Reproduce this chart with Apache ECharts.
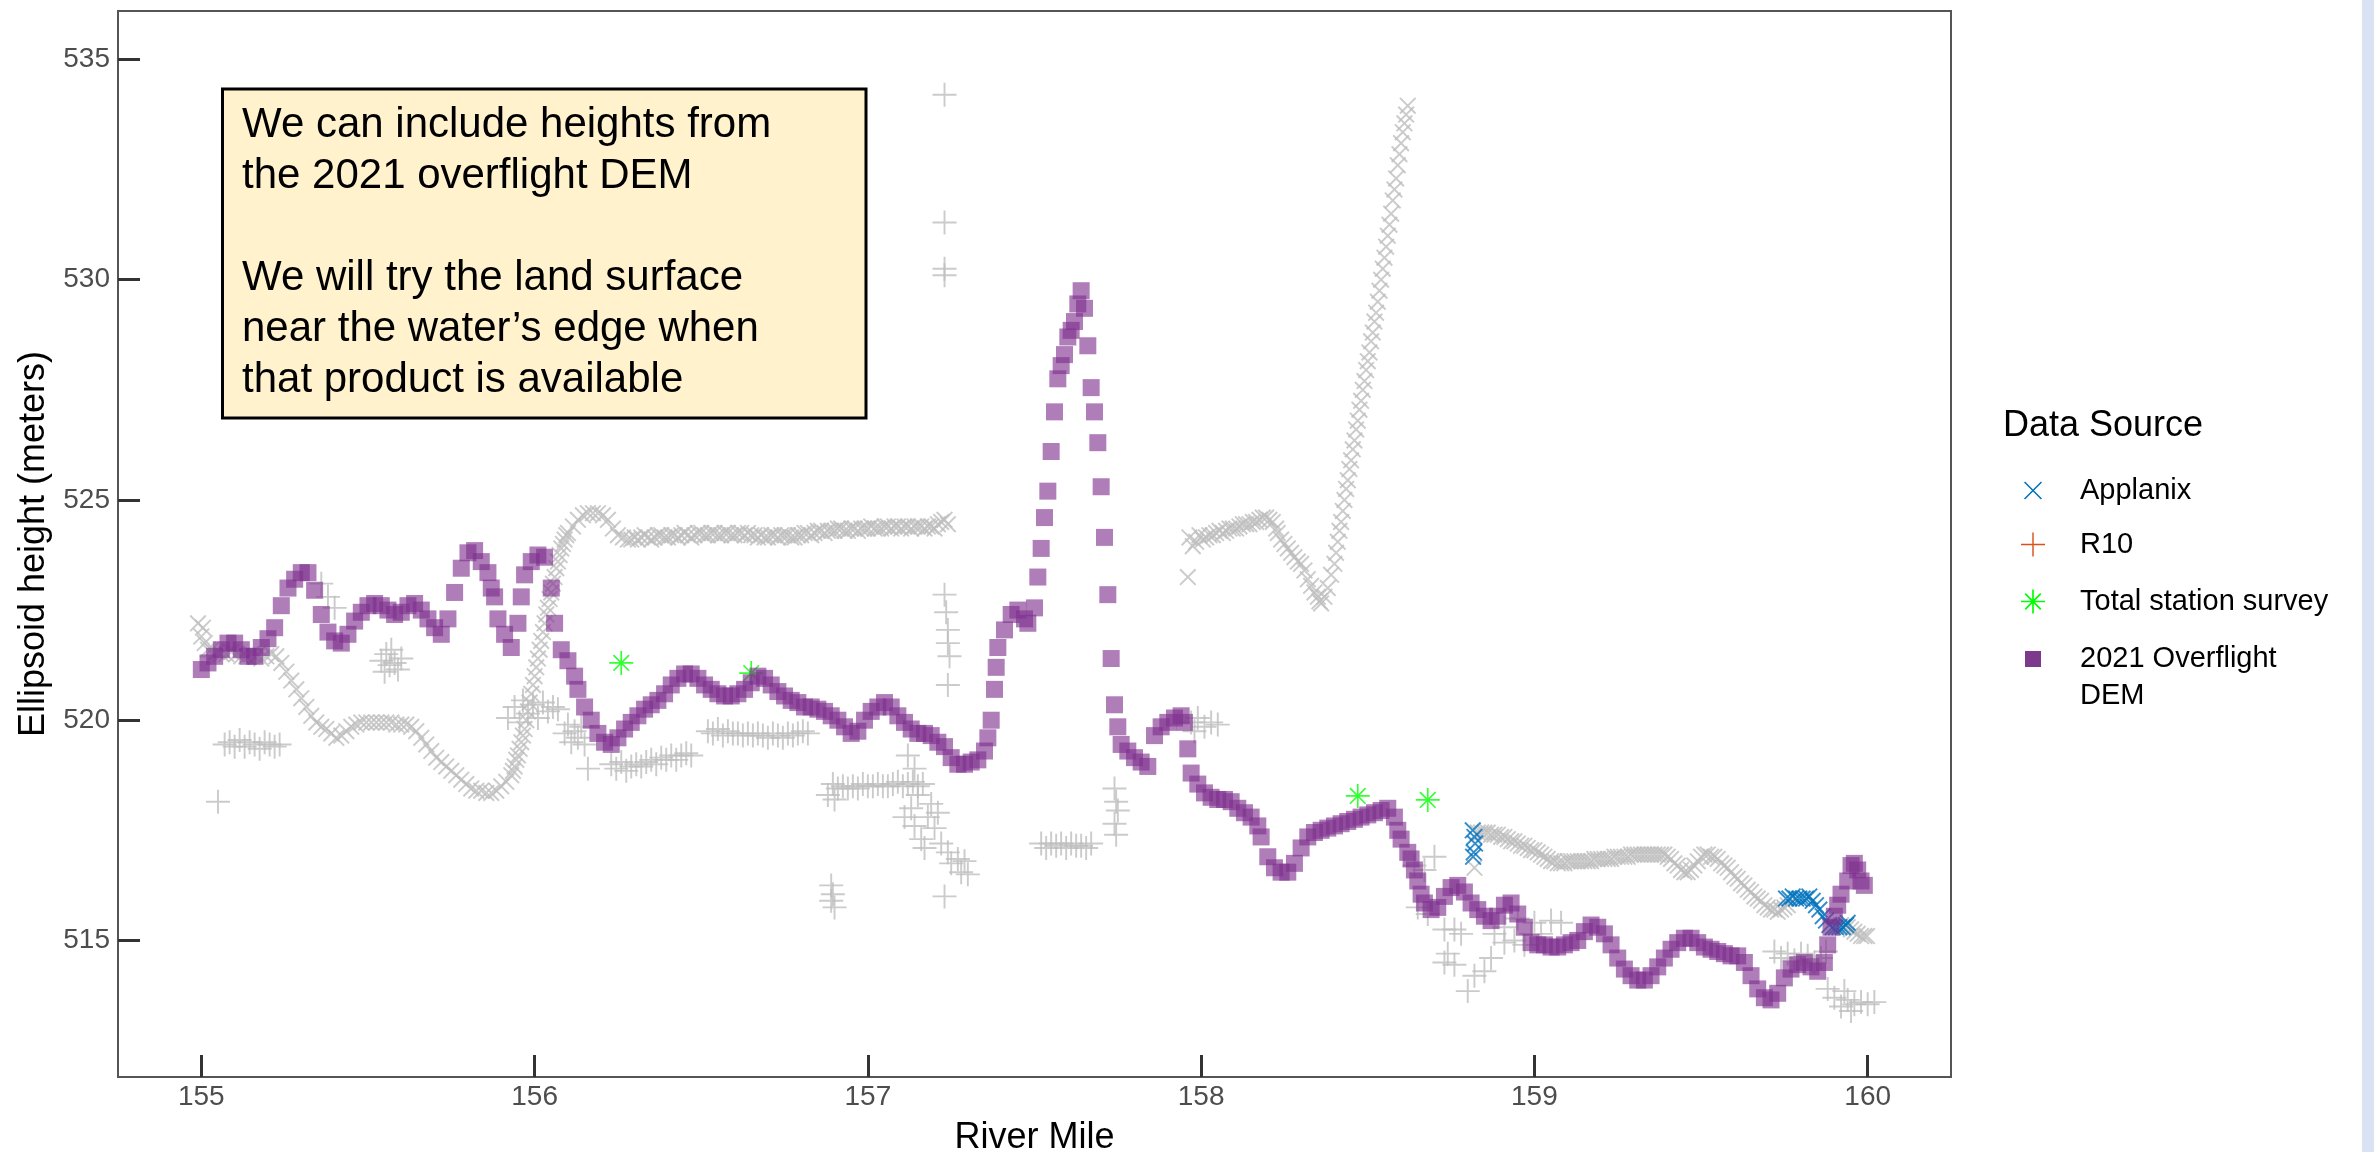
<!DOCTYPE html>
<html><head><meta charset="utf-8">
<script src="https://cdn.jsdelivr.net/npm/echarts/dist/echarts.min.js"></script>
<style>html,body{margin:0;padding:0;background:#fff;}#c{width:2374px;height:1152px;}</style>
</head><body><div id="c"></div>
<script>
// ---------------- data ----------------
const xTicks = [155, 156, 157, 158, 159, 160];
const yTicks = [515, 520, 525, 530, 535];
const seriesNames = ['Applanix', 'R10', 'Total station survey', '2021 Overflight DEM'];

// 2021 Overflight DEM  [river mile, ellipsoid height]
const demData = [[155.00,521.15],[155.02,521.3],[155.04,521.45],[155.06,521.6],[155.08,521.75],[155.10,521.75],[155.12,521.6],[155.14,521.45],[155.16,521.45],[155.18,521.65],[155.20,521.85],[155.22,522.1],[155.24,522.6],[155.26,523.0],[155.28,523.2],[155.30,523.35],[155.32,523.35],[155.34,522.95],[155.36,522.4],[155.38,522.0],[155.40,521.8],[155.42,521.75],[155.44,521.95],[155.46,522.25],[155.48,522.45],[155.50,522.6],[155.52,522.65],[155.54,522.6],[155.56,522.5],[155.58,522.4],[155.60,522.45],[155.62,522.6],[155.64,522.65],[155.66,522.5],[155.68,522.3],[155.70,522.1],[155.72,521.95],[155.74,522.3],[155.76,522.9],[155.78,523.45],[155.80,523.8],[155.82,523.85],[155.84,523.6],[155.86,523.35],[155.87,523.0],[155.88,522.8],[155.89,522.3],[155.91,521.95],[155.93,521.65],[155.95,522.2],[155.96,522.8],[155.97,523.3],[155.99,523.6],[156.01,523.75],[156.03,523.7],[156.05,523.0],[156.06,522.2],[156.08,521.6],[156.10,521.35],[156.12,521.0],[156.13,520.7],[156.15,520.3],[156.17,520.0],[156.19,519.7],[156.21,519.5],[156.23,519.45],[156.25,519.6],[156.27,519.8],[156.29,519.95],[156.31,520.1],[156.33,520.25],[156.35,520.35],[156.37,520.45],[156.39,520.6],[156.41,520.8],[156.43,520.95],[156.45,521.05],[156.47,521.05],[156.49,520.95],[156.51,520.8],[156.53,520.7],[156.55,520.6],[156.57,520.55],[156.59,520.55],[156.61,520.6],[156.63,520.7],[156.65,520.85],[156.67,521.0],[156.69,520.95],[156.71,520.8],[156.73,520.65],[156.75,520.55],[156.77,520.45],[156.79,520.4],[156.81,520.3],[156.83,520.3],[156.85,520.25],[156.87,520.2],[156.89,520.1],[156.91,520.0],[156.93,519.85],[156.95,519.7],[156.97,519.75],[156.99,520.0],[157.01,520.2],[157.03,520.3],[157.05,520.4],[157.07,520.3],[157.09,520.1],[157.11,519.95],[157.13,519.8],[157.15,519.7],[157.17,519.7],[157.19,519.65],[157.21,519.5],[157.23,519.4],[157.25,519.15],[157.27,519.0],[157.29,519.0],[157.31,519.05],[157.33,519.1],[157.35,519.3],[157.36,519.6],[157.37,520.0],[157.38,520.7],[157.385,521.2],[157.39,521.65],[157.41,522.05],[157.43,522.4],[157.45,522.5],[157.47,522.3],[157.48,522.2],[157.50,522.55],[157.51,523.25],[157.52,523.9],[157.53,524.6],[157.54,525.2],[157.55,526.1],[157.56,527.0],[157.57,527.75],[157.58,528.05],[157.59,528.3],[157.60,528.7],[157.61,528.85],[157.62,529.05],[157.63,529.45],[157.64,529.75],[157.65,529.35],[157.66,528.5],[157.67,527.55],[157.68,527.0],[157.69,526.3],[157.70,525.3],[157.71,524.15],[157.72,522.85],[157.73,521.4],[157.74,520.35],[157.75,519.85],[157.76,519.45],[157.78,519.3],[157.80,519.15],[157.82,519.05],[157.84,518.95],[157.86,519.65],[157.88,519.85],[157.90,519.95],[157.92,520.05],[157.94,520.1],[157.95,519.95],[157.96,519.35],[157.97,518.8],[157.99,518.55],[158.01,518.35],[158.03,518.25],[158.05,518.2],[158.07,518.2],[158.09,518.15],[158.11,518.0],[158.13,517.9],[158.15,517.8],[158.17,517.6],[158.18,517.35],[158.20,516.9],[158.22,516.65],[158.24,516.55],[158.26,516.55],[158.28,516.75],[158.30,517.1],[158.32,517.35],[158.34,517.45],[158.36,517.5],[158.38,517.55],[158.40,517.6],[158.42,517.65],[158.44,517.7],[158.46,517.75],[158.48,517.8],[158.50,517.85],[158.52,517.9],[158.54,517.95],[158.56,518.0],[158.58,517.8],[158.59,517.5],[158.60,517.3],[158.62,517.0],[158.63,516.85],[158.64,516.6],[158.65,516.35],[158.66,516.05],[158.67,515.85],[158.69,515.7],[158.71,515.75],[158.73,516.0],[158.75,516.2],[158.77,516.25],[158.79,516.1],[158.81,515.85],[158.83,515.7],[158.85,515.55],[158.87,515.45],[158.89,515.55],[158.91,515.8],[158.93,515.85],[158.95,515.6],[158.97,515.3],[158.99,514.95],[159.01,514.9],[159.03,514.9],[159.05,514.85],[159.07,514.85],[159.09,514.9],[159.11,514.95],[159.13,515.0],[159.15,515.2],[159.17,515.35],[159.19,515.3],[159.21,515.15],[159.23,514.9],[159.25,514.6],[159.27,514.35],[159.29,514.2],[159.31,514.1],[159.33,514.1],[159.35,514.2],[159.37,514.4],[159.39,514.6],[159.41,514.8],[159.43,514.95],[159.45,515.05],[159.47,515.05],[159.49,514.95],[159.51,514.85],[159.53,514.8],[159.55,514.75],[159.57,514.7],[159.59,514.65],[159.61,514.65],[159.63,514.5],[159.65,514.2],[159.67,513.9],[159.69,513.7],[159.71,513.65],[159.73,513.8],[159.75,514.15],[159.77,514.35],[159.79,514.45],[159.81,514.5],[159.83,514.4],[159.85,514.3],[159.87,514.5],[159.88,514.9],[159.89,515.3],[159.90,515.55],[159.91,515.8],[159.92,516.05],[159.94,516.35],[159.95,516.7],[159.96,516.75],[159.97,516.6],[159.98,516.35],[159.99,516.25]];

// Applanix (highlighted, blue)
const applanixData = [[158.815,517.5],[158.82,517.35],[158.822,517.2],[158.818,517.0],[158.816,516.9],[159.755,515.95],[159.765,515.95],[159.775,516.0],[159.785,515.95],[159.795,515.95],[159.805,515.95],[159.815,515.95],[159.825,516.0],[159.835,515.9],[159.845,515.8],[159.855,515.7],[159.865,515.55],[159.875,515.45],[159.885,515.35],[159.895,515.3],[159.905,515.3],[159.915,515.3],[159.925,515.3],[159.935,515.35],[159.94,515.4]];

// R10 (highlighted) – no highlighted points visible in this reach
const r10Data = [];

// Total station survey
const totalStationData = [[156.26,521.3],[156.65,521.07],[158.47,518.28],[158.68,518.19]];

// Applanix points outside the highlight (grey x)
const greyXData = [[154.99,522.2],[155.000,521.9],[155.005,522.1],[155.010,521.75],[155.020,521.6],[155.030,521.6],[155.045,521.55],[155.060,521.5],[155.075,521.5],[155.090,521.55],[155.105,521.5],[155.120,521.45],[155.135,521.45],[155.150,521.5],[155.165,521.45],[155.180,521.4],[155.195,521.45],[155.210,521.5],[155.225,521.45],[155.240,521.3],[155.255,521.1],[155.270,520.9],[155.285,520.7],[155.300,520.5],[155.315,520.3],[155.330,520.1],[155.345,519.95],[155.360,519.85],[155.375,519.8],[155.390,519.7],[155.405,519.6],[155.420,519.65],[155.435,519.75],[155.450,519.85],[155.465,519.9],[155.480,519.95],[155.495,519.95],[155.510,519.95],[155.525,519.95],[155.540,519.95],[155.555,519.95],[155.570,519.95],[155.585,519.9],[155.600,519.9],[155.615,519.9],[155.630,519.85],[155.645,519.75],[155.660,519.6],[155.675,519.45],[155.690,519.3],[155.705,519.15],[155.720,519.05],[155.735,518.95],[155.750,518.85],[155.765,518.75],[155.780,518.65],[155.795,518.55],[155.810,518.45],[155.825,518.4],[155.840,518.4],[155.855,518.35],[155.870,518.35],[155.885,518.4],[155.900,518.5],[155.915,518.6],[155.930,518.75],[155.935,518.85],[155.940,518.95],[155.945,519.1],[155.950,519.2],[155.955,519.35],[155.960,519.5],[155.965,519.65],[155.970,519.8],[155.975,520.0],[155.980,520.2],[155.985,520.4],[155.990,520.6],[155.995,520.8],[156.000,521.0],[156.005,521.2],[156.010,521.4],[156.015,521.6],[156.020,521.8],[156.025,522.0],[156.030,522.2],[156.035,522.4],[156.040,522.55],[156.045,522.75],[156.050,522.9],[156.055,523.1],[156.060,523.25],[156.065,523.45],[156.070,523.6],[156.075,523.75],[156.080,523.9],[156.085,524.0],[156.090,524.1],[156.095,524.2],[156.100,524.25],[156.115,524.4],[156.130,524.55],[156.145,524.65],[156.160,524.7],[156.175,524.7],[156.190,524.7],[156.205,524.65],[156.220,524.55],[156.235,524.35],[156.250,524.2],[156.265,524.15],[156.280,524.1],
[156.29,524.1],[156.30,524.15],[156.31,524.1],[156.32,524.15],[156.33,524.2],[156.34,524.15],[156.35,524.1],[156.36,524.15],[156.37,524.2],[156.38,524.2],[156.39,524.15],[156.40,524.15],[156.41,524.2],[156.42,524.2],[156.43,524.15],[156.44,524.2],[156.45,524.25],[156.46,524.2],[156.47,524.15],[156.48,524.2],[156.49,524.25],[156.50,524.25],[156.51,524.2],[156.52,524.2],[156.53,524.25],[156.54,524.25],[156.55,524.2],[156.56,524.2],[156.57,524.25],[156.58,524.25],[156.59,524.2],[156.60,524.2],[156.61,524.25],[156.62,524.25],[156.63,524.2],[156.64,524.25],[156.65,524.2],[156.66,524.2],[156.67,524.15],[156.68,524.2],[156.69,524.15],[156.70,524.15],[156.71,524.2],[156.72,524.2],[156.73,524.15],[156.74,524.2],[156.75,524.2],[156.76,524.2],[156.77,524.15],[156.78,524.15],[156.79,524.2],[156.80,524.2],[156.81,524.25],[156.82,524.25],[156.83,524.2],[156.84,524.25],[156.85,524.3],[156.86,524.3],[156.87,524.25],[156.88,524.3],[156.89,524.3],[156.90,524.3],[156.91,524.35],[156.92,524.35],[156.93,524.3],[156.94,524.3],[156.95,524.35],[156.96,524.35],[156.97,524.3],[156.98,524.35],[156.99,524.35],[157.00,524.35],[157.01,524.4],[157.02,524.35],[157.03,524.35],[157.04,524.35],[157.05,524.4],[157.06,524.4],[157.07,524.35],[157.08,524.4],[157.09,524.4],[157.10,524.35],[157.11,524.4],[157.12,524.4],[157.13,524.35],[157.14,524.4],[157.15,524.4],[157.16,524.4],[157.17,524.35],[157.18,524.4],[157.19,524.4],[157.20,524.35],[157.21,524.45],[157.22,524.5],[157.23,524.55],[157.24,524.45],
[157.96,523.25],[157.965,524.15],[157.975,523.95],[157.985,524.05],[157.995,524.2],[158.005,524.1],[158.015,524.15],[158.025,524.2],[158.035,524.2],[158.045,524.25],[158.055,524.3],[158.065,524.25],[158.075,524.3],[158.085,524.35],[158.095,524.35],[158.105,524.35],[158.115,524.4],[158.125,524.45],[158.135,524.45],[158.145,524.45],[158.155,524.5],[158.165,524.5],[158.175,524.55],[158.185,524.6],[158.195,524.6],[158.205,524.55],[158.215,524.5],[158.225,524.35],[158.230,524.25],[158.240,524.1],[158.250,524.0],[158.260,523.9],[158.270,523.8],[158.280,523.7],[158.290,523.6],[158.300,523.55],[158.310,523.4],[158.320,523.2],[158.330,523.05],[158.340,522.9],[158.350,522.8],[158.355,522.7],[158.360,522.65],[158.370,522.8],[158.380,523.0],[158.390,523.3],[158.400,523.55],[158.405,523.8],[158.410,524.05],[158.415,524.3],[158.420,524.5],[158.425,524.75],[158.430,525.0],[158.435,525.25],[158.440,525.45],[158.445,525.7],[158.450,525.9],[158.455,526.15],[158.460,526.35],[158.465,526.6],[158.470,526.8],[158.475,527.05],[158.480,527.25],[158.485,527.5],[158.490,527.7],[158.495,527.95],[158.500,528.15],[158.505,528.35],[158.510,528.6],[158.515,528.8],[158.520,529.05],[158.525,529.25],[158.530,529.5],[158.535,529.75],[158.540,530.0],[158.545,530.25],[158.550,530.5],[158.555,530.75],[158.560,531.0],[158.565,531.25],[158.570,531.5],[158.575,531.8],[158.580,532.05],[158.585,532.3],[158.590,532.6],[158.595,532.85],[158.600,533.1],[158.605,533.35],[158.610,533.55],[158.615,533.75],[158.620,533.95],
[158.82,516.65],[158.83,517.45],[158.84,517.45],[158.85,517.45],[158.86,517.45],[158.87,517.4],[158.88,517.4],[158.89,517.4],[158.90,517.35],[158.91,517.35],[158.92,517.3],[158.93,517.25],[158.94,517.25],[158.95,517.2],[158.96,517.15],[158.97,517.15],[158.98,517.1],[158.99,517.05],[159.00,517.05],[159.01,517.0],[159.02,516.95],[159.03,516.9],[159.04,516.85],[159.05,516.8],[159.06,516.8],[159.07,516.75],[159.08,516.75],[159.09,516.75],[159.10,516.8],[159.11,516.8],[159.12,516.8],[159.13,516.8],[159.14,516.8],[159.15,516.8],[159.16,516.8],[159.17,516.8],[159.18,516.85],[159.19,516.85],[159.20,516.85],[159.21,516.85],[159.22,516.85],[159.23,516.85],[159.24,516.9],[159.25,516.9],[159.26,516.9],[159.27,516.9],[159.28,516.9],[159.29,516.95],[159.30,516.95],[159.31,516.95],[159.32,516.95],[159.33,516.95],[159.34,516.95],[159.35,516.95],[159.36,516.95],[159.37,516.95],[159.38,516.95],[159.39,516.95],[159.40,516.9],[159.41,516.85],[159.42,516.75],[159.43,516.7],[159.44,516.6],[159.45,516.55],[159.46,516.55],[159.47,516.6],[159.48,516.7],[159.49,516.8],[159.50,516.9],[159.51,516.95],[159.52,516.95],[159.53,516.9],[159.54,516.9],[159.55,516.85],[159.56,516.75],[159.57,516.7],[159.58,516.65],[159.59,516.55],[159.60,516.45],[159.61,516.4],[159.62,516.3],[159.63,516.25],[159.64,516.15],[159.65,516.1],[159.66,516.0],[159.67,515.95],[159.68,515.9],[159.69,515.8],[159.70,515.75],[159.71,515.7],[159.72,515.7],[159.73,515.65],[159.74,515.7],[159.75,515.75],[159.76,515.8],
[159.920,515.35],[159.930,515.3],[159.940,515.3],[159.950,515.25],[159.960,515.2],[159.970,515.15],[159.980,515.1],[159.990,515.1],[159.998,515.1]];

// R10 points outside the highlight (grey +)
const greyPlusData = [[155.05,518.15],
[155.07,519.45],[155.085,519.5],[155.10,519.4],[155.115,519.55],[155.13,519.4],[155.145,519.5],[155.16,519.45],[155.175,519.35],[155.19,519.5],[155.205,519.45],[155.22,519.4],[155.235,519.45],
[155.36,523.1],[155.38,522.8],[155.40,522.55],
[155.54,521.35],[155.55,521.1],[155.555,521.5],[155.565,521.25],[155.57,521.6],[155.58,521.3],[155.59,521.15],[155.60,521.4],
[155.92,520.05],[155.94,520.3],[155.955,519.95],[155.965,520.45],[155.98,520.15],[155.995,520.35],[156.01,520.05],[156.025,520.4],[156.04,520.2],[156.055,520.3],[156.07,520.25],
[156.09,519.7],[156.10,519.9],[156.11,519.5],[156.12,519.75],[156.13,519.6],[156.14,519.85],[156.15,519.45],[156.16,518.9],
[156.23,519.0],[156.245,518.9],[156.26,519.05],[156.275,518.85],[156.29,518.95],[156.305,519.0],[156.32,518.95],[156.335,519.05],[156.35,519.1],[156.365,519.0],[156.38,519.15],[156.395,519.1],[156.41,519.2],[156.425,519.1],[156.44,519.2],[156.455,519.25],[156.47,519.2],
[156.52,519.75],[156.535,519.7],[156.55,519.8],[156.565,519.65],[156.58,519.75],[156.595,519.7],[156.61,519.7],[156.625,519.65],[156.64,519.7],[156.655,519.65],[156.67,519.7],[156.685,519.65],[156.70,519.6],[156.715,519.7],[156.73,519.65],[156.745,519.6],[156.76,519.7],[156.775,519.65],[156.79,519.7],[156.805,519.75],[156.82,519.7],
[156.88,518.3],[156.895,518.55],[156.90,518.2],[156.91,518.45],[156.925,518.5],[156.94,518.45],[156.955,518.5],[156.97,518.45],[156.985,518.55],[157.00,518.5],[157.015,518.5],[157.03,518.55],[157.045,518.5],[157.06,518.5],[157.075,518.55],[157.09,518.6],[157.105,518.5],[157.12,518.55],[157.135,518.6],[157.15,518.5],[157.165,518.55],
[157.12,519.2],[157.14,518.9],[157.15,518.3],[157.13,518.0],[157.11,517.8],[157.14,517.6],[157.16,517.3],[157.18,517.8],[157.20,517.55],[157.22,517.2],[157.24,517.0],[157.17,517.1],[157.21,517.9],[157.19,518.1],[157.25,516.75],[157.27,516.85],[157.28,516.55],[157.29,516.8],[157.30,516.5],[157.23,516.0],
[156.89,516.25],[156.895,516.05],[156.89,515.9],[156.90,515.75],
[157.23,534.2],[157.23,531.3],[157.23,530.25],[157.23,530.1],[157.23,522.85],[157.235,522.45],[157.24,522.05],[157.24,521.75],[157.245,521.45],[157.24,520.8],
[157.52,517.2],[157.535,517.1],[157.55,517.2],[157.565,517.15],[157.58,517.2],[157.595,517.1],[157.61,517.2],[157.625,517.15],[157.64,517.15],[157.655,517.1],[157.67,517.2],
[157.74,518.45],[157.745,518.15],[157.75,517.95],[157.74,517.65],[157.745,517.4],
[157.97,519.95],[157.99,520.05],[158.01,519.85],[158.03,519.95],[158.05,519.9],[157.98,519.75],
[158.64,516.7],[158.67,516.6],[158.70,516.9],[158.65,515.75],[158.68,515.6],[158.73,515.25],[158.76,515.25],[158.78,515.15],[158.74,514.7],[158.73,514.5],[158.76,514.45],[158.82,514.2],[158.80,513.85],[158.85,514.3],[158.87,514.6],[158.88,515.15],[158.94,515.0],[158.99,515.15],
[158.91,515.3],[158.95,515.5],[159.00,515.4],[159.05,515.45],[159.08,515.4],[159.02,515.15],[158.97,514.9],[158.91,514.95],
[159.72,514.75],[159.74,514.6],[159.76,514.7],[159.78,514.55],[159.80,514.7],[159.82,514.65],[159.84,514.5],[159.86,514.6],[159.875,514.75],
[159.88,513.9],[159.90,513.7],[159.92,513.5],[159.93,513.85],[159.94,513.65],[159.95,513.4],[159.96,513.55],[159.98,513.6],[160.00,513.55],[160.02,513.6]];

// ---------------- marker shapes ----------------
const X_PATH = 'path://M0 8L8 0L100 92L92 100Z M92 0L100 8L8 100L0 92Z';
const PLUS_PATH = 'path://M46 0L54 0L54 100L46 100Z M0 46L100 46L100 54L0 54Z';
const STAR_PATH = 'path://M46.5 0L53.5 0L53.5 100L46.5 100Z M0 46.5L100 46.5L100 53.5L0 53.5Z M15 20L20 15L85 80L80 85Z M80 15L85 20L20 85L15 80Z';
const X_LEGEND = 'path://M0 6L6 0L100 94L94 100Z M94 0L100 6L6 100L0 94Z';
const PLUS_LEGEND = 'path://M47 0L53 0L53 100L47 100Z M0 47L100 47L100 53L0 53Z';

const FONT = '"Liberation Sans", Arial, sans-serif';
const GREY = '#bebebe';
const BLUE = '#0072BD', ORANGE = '#D95319', GREEN = '#00FF00', PURPLE = '#7E2F8E';

const chart = echarts.init(document.getElementById('c'), null, {renderer: 'canvas'});

function legendBox(name, icon, w, h, cx, cy, color, textLeft) {
  return {
    orient: 'vertical', selectedMode: false, padding: 0,
    left: cx - w / 2, top: cy - h / 2,
    itemWidth: w, itemHeight: h,
    data: [{name: name, icon: icon, itemStyle: {color: color, opacity: 1, borderWidth: 0}}],
    textStyle: {fontFamily: FONT, fontSize: 29, color: '#000', lineHeight: h,
      padding: [0, 0, 0, textLeft - (cx + w / 2 + 5)]}
  };
}

const demLegend = legendBox(seriesNames[3], 'rect', 16, 16, 2033, 659, '#7b3a8c', 2080);
demLegend.top = 659 - 55.5;
demLegend.formatter = '\n2021 Overflight\nDEM';
demLegend.textStyle.lineHeight = 37;

const option = {
  animation: false,
  backgroundColor: '#ffffff',
  grid: {left: 118, right: 423, top: 11, bottom: 75, show: true, borderColor: '#555555', borderWidth: 2,
    containLabel: false, outerBoundsMode: 'none'},
  xAxis: {
    type: 'value', min: 154.75, max: 160.25,
    axisLine: {show: true, onZero: false, lineStyle: {color: '#555555', width: 2}},
    axisTick: {show: true, inside: true, length: 22, customValues: xTicks, lineStyle: {color: '#333333', width: 3}},
    axisLabel: {customValues: xTicks, fontFamily: FONT, fontSize: 28, color: '#4d4d4d', margin: 6},
    splitLine: {show: false},
    name: 'River Mile', nameLocation: 'middle', nameGap: 43,
    nameTextStyle: {fontFamily: FONT, fontSize: 36, color: '#000'}
  },
  yAxis: {
    type: 'value', min: 511.9, max: 536.1,
    axisLine: {show: true, onZero: false, lineStyle: {color: '#555555', width: 2}},
    axisTick: {show: true, inside: true, length: 22, customValues: yTicks, lineStyle: {color: '#333333', width: 3}},
    axisLabel: {customValues: yTicks, fontFamily: FONT, fontSize: 28, color: '#4d4d4d', margin: 8},
    splitLine: {show: false},
    name: 'Ellipsoid height (meters)', nameLocation: 'middle', nameGap: 63,
    nameTextStyle: {fontFamily: FONT, fontSize: 36, color: '#000'}
  },
  title: {
    text: 'Data Source', left: 2003, top: 406, padding: 0,
    textStyle: {fontFamily: FONT, fontSize: 36, fontWeight: 'normal', color: '#000', lineHeight: 40}
  },
  legend: [
    legendBox(seriesNames[0], X_LEGEND, 18, 18, 2033, 485, BLUE, 2080),
    legendBox(seriesNames[1], PLUS_LEGEND, 24, 24, 2033, 542, ORANGE, 2080),
    legendBox(seriesNames[2], STAR_PATH, 24, 24, 2033, 599, GREEN, 2080),
    demLegend
  ],
  graphic: [
    {type: 'rect', left: 2362, top: 0, shape: {width: 12, height: 1152}, style: {fill: '#dae3f3'}, silent: true},
    {type: 'rect', shape: {x: 222.5, y: 89, width: 643.5, height: 329}, style: {fill: '#fff2cc', stroke: '#000', lineWidth: 3}, z: 100, silent: true},
    {type: 'text', x: 242, y: 100, z: 101, silent: true,
      style: {text: 'We can include heights from\nthe 2021 overflight DEM\n\nWe will try the land surface\nnear the water\u2019s edge when\nthat product is available',
        font: '42px "Liberation Sans", Arial, sans-serif', fill: '#000', lineHeight: 51, verticalAlign: 'top', align: 'left'}}
  ],
  series: [
    {name: 'Applanix (other)', type: 'scatter', data: greyXData, symbol: X_PATH, symbolSize: 17, itemStyle: {color: GREY}, silent: true, large: false},
    {name: 'R10 (other)', type: 'scatter', data: greyPlusData, symbol: PLUS_PATH, symbolSize: 24, itemStyle: {color: GREY}, silent: true, large: false},
    {name: seriesNames[0], type: 'scatter', data: applanixData, symbol: X_PATH, symbolSize: 17, itemStyle: {color: BLUE}, silent: true},
    {name: seriesNames[1], type: 'scatter', data: r10Data, symbol: PLUS_PATH, symbolSize: 24, itemStyle: {color: ORANGE}, silent: true},
    {name: seriesNames[2], type: 'scatter', data: totalStationData, symbol: STAR_PATH, symbolSize: 24, itemStyle: {color: GREEN}, silent: true},
    {name: seriesNames[3], type: 'scatter', data: demData, symbol: 'rect', symbolSize: 17, itemStyle: {color: PURPLE, opacity: 0.62}, silent: true, large: false}
  ]
};
chart.setOption(option);
</script>
</body></html>
